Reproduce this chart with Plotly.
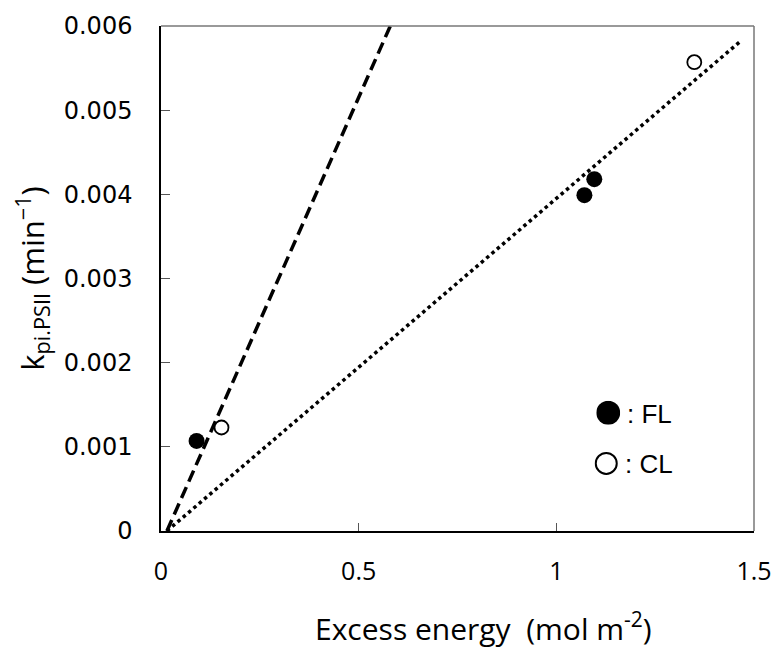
import plotly.graph_objects as go

# Measured rate constants vs. excess energy
fl_x = [0.09, 1.071, 1.096]
fl_y = [0.00107, 0.00399, 0.00418]
cl_x = [0.153, 1.349]
cl_y = [0.00123, 0.00557]

# Regression lines through the origin region
fl_fit_x = [0.015, 0.58]
fl_fit_y = [0.0, 0.0060]
cl_fit_x = [0.015, 1.466]
cl_fit_y = [0.0, 0.00582]

x_ticks = [0, 0.5, 1, 1.5]
x_tick_text = ["0", "0.5", "1", "1.5"]
y_ticks = [0, 0.001, 0.002, 0.003, 0.004, 0.005, 0.006]
y_tick_text = ["0", "0.001", "0.002", "0.003", "0.004", "0.005", "0.006"]

fig = go.Figure()

fig.add_trace(go.Scatter(x=fl_fit_x, y=fl_fit_y, mode="lines",
                         line=dict(color="black", width=3.5, dash="12px,6px"),
                         showlegend=False, hoverinfo="skip"))
fig.add_trace(go.Scatter(x=cl_fit_x, y=cl_fit_y, mode="lines",
                         line=dict(color="black", width=3.5, dash="3.5px,3.5px"),
                         showlegend=False, hoverinfo="skip"))
fig.add_trace(go.Scatter(x=fl_x, y=fl_y, mode="markers",
                         marker=dict(size=16, color="black", line=dict(width=0)),
                         showlegend=False))
fig.add_trace(go.Scatter(x=cl_x, y=cl_y, mode="markers",
                         marker=dict(size=14, color="white", line=dict(color="black", width=1.8)),
                         showlegend=False))

# Key drawn inside the plot area
fig.add_trace(go.Scatter(x=[0.5], y=[0.5], xaxis="x2", yaxis="y2", mode="markers",
                         marker=dict(size=24, color="black", line=dict(width=0)),
                         showlegend=False, hoverinfo="skip"))
fig.add_trace(go.Scatter(x=[0.5], y=[0.5], xaxis="x3", yaxis="y3", mode="markers",
                         marker=dict(size=21, color="white", line=dict(color="black", width=2)),
                         showlegend=False, hoverinfo="skip"))

W, H = 784, 658
L, R, T, B = 161, 25, 23, 127
pw, ph = W - L - R, H - T - B

def px(xp):
    return (xp - L) / pw

def py(yp):
    return (H - B - yp) / ph

fig.update_layout(
    width=W, height=H,
    margin=dict(l=L, r=R, t=T, b=B),
    plot_bgcolor="white", paper_bgcolor="white",
    font=dict(family="Liberation Sans", color="black"),
    xaxis=dict(range=[0, 1.5], tickvals=x_ticks, ticktext=x_tick_text,
               showline=True, linecolor="black", linewidth=1.5,
               ticks="inside", ticklen=8, tickcolor="#555", tickwidth=1,
               showgrid=False, zeroline=False,
               tickfont=dict(size=25, family="Open Sans"),
               ticklabelstandoff=17),
    yaxis=dict(range=[0, 0.006], tickvals=y_ticks, ticktext=y_tick_text,
               showline=True, linecolor="black", linewidth=1.5,
               ticks="inside", ticklen=9, tickcolor="#555", tickwidth=1,
               showgrid=False, zeroline=False,
               tickfont=dict(size=24, family="DejaVu Sans"),
               ticklabelstandoff=22,
               title=dict(text="k<sub>pi.PSII</sub> (min<sup>−1</sup>)",
                          font=dict(size=31, family="Open Sans"), standoff=10)),
    xaxis2=dict(domain=[px(600), px(624)], range=[0, 1], visible=False, anchor="y2"),
    yaxis2=dict(domain=[py(424), py(400)], range=[0, 1], visible=False, anchor="x2"),
    xaxis3=dict(domain=[px(598), px(622)], range=[0, 1], visible=False, anchor="y3"),
    yaxis3=dict(domain=[py(475), py(451)], range=[0, 1], visible=False, anchor="x3"),
    shapes=[
        dict(type="line", xref="paper", yref="paper", x0=0, x1=1, y0=1, y1=1,
             line=dict(color="#777", width=1.5)),
        dict(type="line", xref="paper", yref="paper", x0=1, x1=1, y0=0, y1=1,
             line=dict(color="#777", width=1.5)),
    ],
    annotations=[
        dict(text="Excess energy  (mol m<sup>-2</sup>)", xref="paper", yref="paper",
             x=px(486), y=py(628), xanchor="center", yanchor="middle", showarrow=False,
             font=dict(size=30, family="Open Sans")),
        dict(text=": FL", xref="paper", yref="paper", x=px(629), y=py(413),
             xanchor="left", yanchor="middle", showarrow=False,
             font=dict(size=26, family="Liberation Sans")),
        dict(text=": CL", xref="paper", yref="paper", x=px(627), y=py(464),
             xanchor="left", yanchor="middle", showarrow=False,
             font=dict(size=26, family="Liberation Sans")),
    ],
)

fig.write_html("out.html")
